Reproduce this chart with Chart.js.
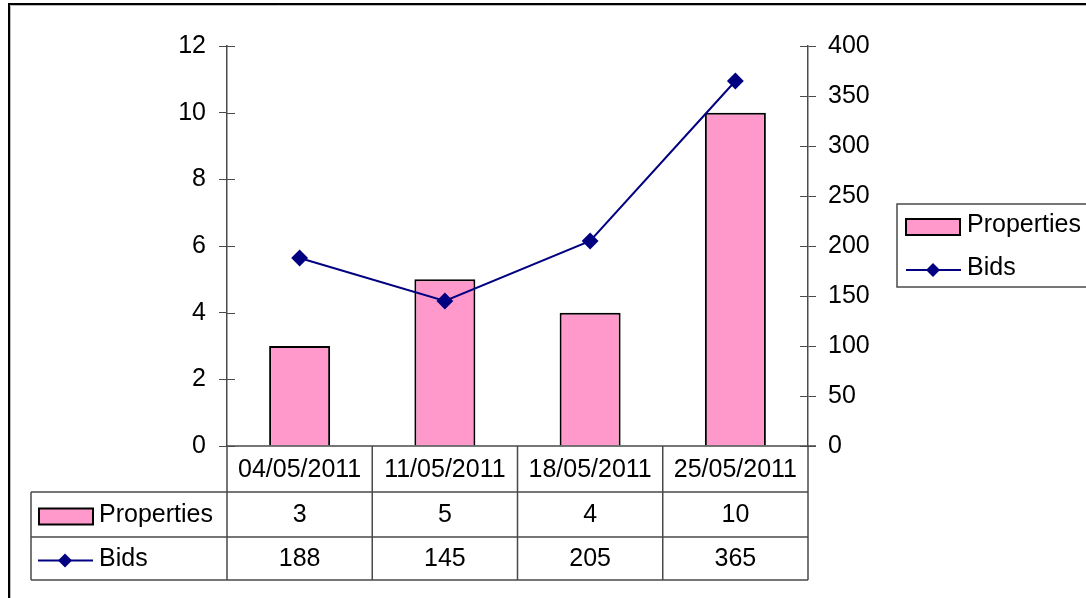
<!DOCTYPE html>
<html>
<head>
<meta charset="utf-8">
<script src="https://cdn.jsdelivr.net/npm/chart.js@4/dist/chart.umd.min.js"></script>
<style>
  html, body { margin: 0; padding: 0; background: #fff; }
  #wrap { width: 1086px; height: 598px; position: relative; }
</style>
</head>
<body>
<div id="wrap"><canvas id="chart" width="1086" height="598"></canvas></div>
<script>
// data
const tanggal = ["04/05/2011", "11/05/2011", "18/05/2011", "25/05/2011"];
const properties = [3, 5, 4, 10];
const bids = [188, 145, 205, 365];
const leftTicks = [0, 2, 4, 6, 8, 10, 12];
const rightTicks = [0, 50, 100, 150, 200, 250, 300, 350, 400];

const FONT = "Liberation Sans, Arial, sans-serif";
const PINK = "#ff99cc";
const NAVY = "#000080";
const GARIS = "#4a4a4a";

// simbol legenda (kotak pink / garis + belah ketupat)
function drawSwatch(ctx, type, x, y) {
  if (type === "bar") {
    ctx.fillStyle = PINK;
    ctx.fillRect(x, y - 8, 54, 16);
    ctx.strokeStyle = "#000";
    ctx.lineWidth = 2;
    ctx.strokeRect(x, y - 8, 54, 16);
  } else {
    ctx.strokeStyle = NAVY;
    ctx.lineWidth = 2;
    ctx.beginPath();
    ctx.moveTo(x, y);
    ctx.lineTo(x + 55, y);
    ctx.stroke();
    ctx.fillStyle = NAVY;
    ctx.beginPath();
    ctx.moveTo(x + 27, y - 7);
    ctx.lineTo(x + 34, y);
    ctx.lineTo(x + 27, y + 7);
    ctx.lineTo(x + 20, y);
    ctx.closePath();
    ctx.fill();
  }
}

const tablePlugin = {
  id: "tabelData",
  afterDraw(chart) {
    const ctx = chart.ctx;
    const area = chart.chartArea;
    const xs = chart.scales.x;
    const yl = chart.scales.y;
    const yr = chart.scales.y1;
    ctx.save();

    // tick bagian dalam (menyilang sumbu)
    ctx.strokeStyle = GARIS;
    ctx.lineWidth = 1;
    yl.ticks.forEach(t => {
      const py = Math.round(yl.getPixelForValue(t.value)) + 0.5;
      ctx.beginPath(); ctx.moveTo(area.left, py); ctx.lineTo(area.left + 8, py); ctx.stroke();
    });
    yr.ticks.forEach(t => {
      const py = Math.round(yr.getPixelForValue(t.value)) + 0.5;
      ctx.beginPath(); ctx.moveTo(area.right - 8, py); ctx.lineTo(area.right, py); ctx.stroke();
    });

    // tabel data
    const n = tanggal.length;
    const colW = (area.right - area.left) / n;
    const r0 = area.bottom, r1 = area.bottom + 46, r2 = area.bottom + 91, r3 = area.bottom + 134;
    const tl = 31;
    ctx.strokeStyle = GARIS;
    ctx.lineWidth = 1.5;
    ctx.beginPath();
    ctx.moveTo(area.left, r0); ctx.lineTo(area.right + 8, r0);
    ctx.moveTo(tl, r1); ctx.lineTo(area.right, r1);
    ctx.moveTo(tl, r2); ctx.lineTo(area.right, r2);
    ctx.moveTo(tl, r3); ctx.lineTo(area.right, r3);
    ctx.moveTo(tl, r1); ctx.lineTo(tl, r3);
    for (let i = 0; i <= n; i++) {
      const px = area.left + i * colW;
      ctx.moveTo(px, r0); ctx.lineTo(px, r3);
    }
    ctx.stroke();

    ctx.fillStyle = "#000";
    ctx.font = "25px " + FONT;
    ctx.textAlign = "center";
    ctx.textBaseline = "middle";
    for (let i = 0; i < n; i++) {
      const cx = xs.getPixelForValue(i);
      ctx.fillText(tanggal[i], cx, (r0 + r1) / 2 + 1);
      ctx.fillText(String(properties[i]), cx, (r1 + r2) / 2 + 1);
      ctx.fillText(String(bids[i]), cx, (r2 + r3) / 2 + 1);
    }
    ctx.textAlign = "left";
    drawSwatch(ctx, "bar", 39, (r1 + r2) / 2 + 2);
    ctx.fillStyle = "#000";
    ctx.fillText("Properties", 99, (r1 + r2) / 2 + 1);
    drawSwatch(ctx, "line", 38, (r2 + r3) / 2 + 2);
    ctx.fillStyle = "#000";
    ctx.fillText("Bids", 99, (r2 + r3) / 2 + 1);

    // legenda kanan
    ctx.strokeStyle = GARIS;
    ctx.lineWidth = 1.5;
    ctx.strokeRect(897, 204, 200, 83);
    drawSwatch(ctx, "bar", 906, 227);
    ctx.fillStyle = "#000";
    ctx.fillText("Properties", 967, 225);
    drawSwatch(ctx, "line", 906, 270);
    ctx.fillStyle = "#000";
    ctx.fillText("Bids", 967, 268);

    // bingkai luar
    ctx.strokeStyle = "#bbb";
    ctx.lineWidth = 1;
    ctx.beginPath();
    ctx.moveTo(10.5, 598); ctx.lineTo(10.5, 5.5); ctx.lineTo(1086, 5.5);
    ctx.stroke();
    ctx.strokeStyle = "#000";
    ctx.lineWidth = 2;
    ctx.beginPath();
    ctx.moveTo(9, 598); ctx.lineTo(9, 4); ctx.lineTo(1086, 4);
    ctx.stroke();
    ctx.restore();
  }
};

new Chart(document.getElementById("chart"), {
  type: "bar",
  data: {
    labels: tanggal,
    datasets: [
      {
        type: "line",
        label: "Bids",
        data: bids,
        yAxisID: "y1",
        borderColor: NAVY,
        borderWidth: 2,
        backgroundColor: NAVY,
        pointStyle: "rectRot",
        pointRadius: 7,
        pointBackgroundColor: NAVY,
        pointBorderColor: NAVY,
        tension: 0,
        order: 0
      },
      {
        type: "bar",
        label: "Properties",
        data: properties,
        yAxisID: "y",
        backgroundColor: PINK,
        borderColor: "#000",
        borderWidth: 2,
        barPercentage: 0.42,
        categoryPercentage: 1,
        order: 1
      }
    ]
  },
  options: {
    responsive: false,
    animation: false,
    layout: { padding: { top: 46, left: 0, right: 0, bottom: 0 } },
    plugins: { legend: { display: false }, tooltip: { enabled: false } },
    scales: {
      x: {
        grid: { display: false },
        border: { display: false },
        ticks: { display: false },
        afterFit(s) { s.height = 152; }
      },
      y: {
        position: "left",
        min: 0,
        max: 12,
        afterBuildTicks(s) { s.ticks = leftTicks.map(v => ({ value: v })); },
        ticks: { color: "#000", font: { family: FONT, size: 25 }, padding: 13 },
        grid: { drawOnChartArea: false, color: GARIS, tickLength: 8 },
        border: { color: GARIS, width: 1.5 },
        afterFit(s) { s.width = 227; }
      },
      y1: {
        position: "right",
        min: 0,
        max: 400,
        afterBuildTicks(s) { s.ticks = rightTicks.map(v => ({ value: v })); },
        ticks: { color: "#000", font: { family: FONT, size: 25 }, padding: 12 },
        grid: { drawOnChartArea: false, color: GARIS, tickLength: 8 },
        border: { color: GARIS, width: 1.5 },
        afterFit(s) { s.width = 1086 - 808; }
      }
    }
  },
  plugins: [tablePlugin]
});
</script>
</body>
</html>
